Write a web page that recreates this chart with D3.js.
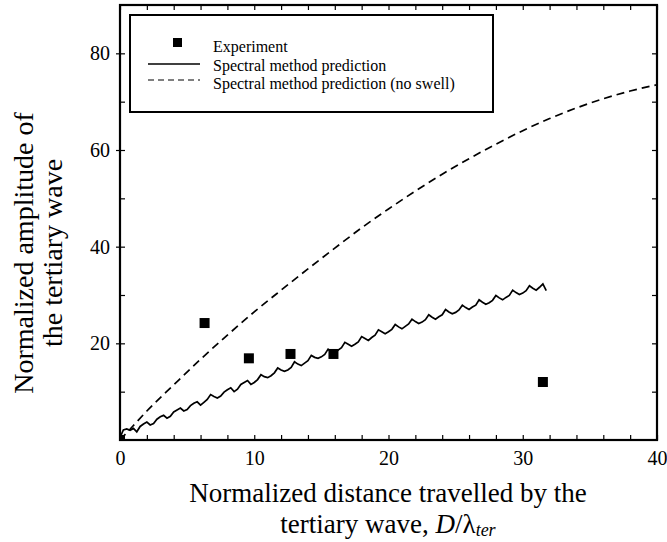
<!DOCTYPE html>
<html><head><meta charset="utf-8">
<script src="https://cdn.jsdelivr.net/npm/d3@7"></script>
<style>html,body{margin:0;padding:0;background:#fff}</style>
</head><body><svg id="chart" width="667" height="542"></svg>
<script>
// ---- data ----
const expX = [0, 6.3, 9.6, 12.7, 15.9, 31.5];
const expY = [0, 24.2, 16.9, 17.8, 17.8, 12.0];

const dashX = [0, 1, 2, 4, 6, 8, 10, 12, 14, 16, 18, 20, 22, 24, 26, 28, 30, 32, 34, 36, 38, 40];
const dashY = [0, 3.0, 6.0, 11.4, 16.7, 21.7, 26.5, 31.0, 35.4, 39.7, 43.9, 47.8, 51.5, 55.0, 58.2, 61.2, 64.0, 66.5, 68.7, 70.6, 72.2, 73.5];

const solidX = [0,0.25,0.5,0.75,1,1.25,1.5,1.75,2,2.25,2.5,2.75,3,3.25,3.5,3.75,4,4.25,4.5,4.75,
  5,5.25,5.5,5.75,6,6.25,6.5,6.75,7,7.25,7.5,7.75,8,8.25,8.5,8.75,9,9.25,9.5,9.75,
  10,10.25,10.5,10.75,11,11.25,11.5,11.75,12,12.25,12.5,12.75,13,13.25,13.5,13.75,14,14.25,14.5,14.75,
  15,15.25,15.5,15.75,16,16.25,16.5,16.75,17,17.25,17.5,17.75,18,18.25,18.5,18.75,19,19.25,19.5,19.75,
  20,20.25,20.5,20.75,21,21.25,21.5,21.75,22,22.25,22.5,22.75,23,23.25,23.5,23.75,24,24.25,24.5,24.75,
  25,25.25,25.5,25.75,26,26.25,26.5,26.75,27,27.25,27.5,27.75,28,28.25,28.5,28.75,29,29.25,29.5,29.75,
  30,30.25,30.5,30.75,31,31.25,31.5,31.75];
const solidY = [0.5,2.1,2.3,2.0,2.4,1.7,2.8,3.3,3.7,3.1,3.4,4.3,4.8,5.1,4.5,4.9,5.8,6.2,6.6,6.0,
  6.3,7.1,7.6,7.9,7.2,7.8,8.4,9.4,9.0,8.7,9.1,9.9,10.4,10.8,10.0,10.5,11.5,11.9,12.3,11.5,
  11.9,12.5,13.5,13.1,12.9,13.3,13.9,14.9,14.5,14.2,14.5,15.0,16.2,15.7,15.4,15.9,16.4,17.5,17.1,16.9,
  17.2,17.7,18.8,18.3,18.0,18.6,19.1,20.2,19.8,19.4,19.8,20.3,21.4,21.0,20.6,21.2,21.7,22.8,22.4,22.0,
  22.4,22.9,23.9,23.4,23.0,23.5,24.0,25.0,24.5,24.1,24.4,24.9,25.9,25.4,25.0,25.5,25.9,27.0,26.5,26.1,
  26.4,26.9,27.9,27.4,27.0,27.5,27.9,29.0,28.5,28.1,28.4,28.9,29.9,29.4,29.0,29.5,29.9,31.0,30.5,30.1,
  30.4,30.9,31.9,31.4,31.0,31.6,32.3,30.9];

const xTickLabels = [0, 10, 20, 30, 40];
const yTickLabels = [20, 40, 60, 80];
const xMinorTicks = [0,2,4,6,8,10,12,14,16,18,20,22,24,26,28,30,32,34,36,38,40];
const yMinorTicks = [10,20,30,40,50,60,70,80];
const legendLabels = ["Experiment", "Spectral method prediction", "Spectral method prediction (no swell)"];

// ---- drawing ----
const svg = d3.select("#chart");
const serif = "'Liberation Serif', 'Times New Roman', serif";
const L = 120, R = 657, T = 5, B = 440;
const x = d3.scaleLinear().domain([0, 40]).range([L, R]);
const y = d3.scaleLinear().domain([0, 90]).range([B, T]);

svg.append("rect").attr("width", 667).attr("height", 542).attr("fill", "#fff");

svg.append("defs").append("clipPath").attr("id", "clip")
  .append("rect").attr("x", L).attr("y", T).attr("width", R - L).attr("height", B - T);

// ticks (inward)
function minorAxis(axis, tr) {
  const g = svg.append("g").attr("transform", tr).call(axis);
  g.select(".domain").remove();
  g.selectAll("text").remove();
  g.selectAll("line").attr("stroke", "#000").attr("stroke-width", 1.2);
}
minorAxis(d3.axisBottom(x).tickValues(xMinorTicks).tickSize(-5), `translate(0,${B})`);
minorAxis(d3.axisTop(x).tickValues(xMinorTicks).tickSize(-5), `translate(0,${T})`);
minorAxis(d3.axisLeft(y).tickValues(yMinorTicks).tickSize(-5), `translate(${L},0)`);
minorAxis(d3.axisLeft(y).tickValues(yTickLabels).tickSize(4), `translate(${L},0)`);
minorAxis(d3.axisRight(y).tickValues(yMinorTicks).tickSize(-5), `translate(${R},0)`);

// tick labels
const xl = svg.append("g").attr("transform", `translate(0,${B})`)
  .call(d3.axisBottom(x).tickValues(xTickLabels).tickSize(0).tickPadding(11));
xl.select(".domain").remove();
xl.selectAll("text").attr("font-family", serif).attr("font-size", 20).attr("fill", "#000");

const yl = svg.append("g").attr("transform", `translate(${L},0)`)
  .call(d3.axisLeft(y).tickValues(yTickLabels).tickSize(0).tickPadding(10));
yl.select(".domain").remove();
yl.selectAll("text").attr("font-family", serif).attr("font-size", 20).attr("fill", "#000");

// curves
const plot = svg.append("g").attr("clip-path", "url(#clip)");
const dashData = dashX.map((d, i) => [d, dashY[i]]);
const solidData = solidX.map((d, i) => [d, solidY[i]]);
const expData = expX.map((d, i) => [d, expY[i]]);

plot.append("path").datum(dashData)
  .attr("d", d3.line().x(d => x(d[0])).y(d => y(d[1])).curve(d3.curveMonotoneX))
  .attr("fill", "none").attr("stroke", "#000").attr("stroke-width", 1.7)
  .attr("stroke-dasharray", "8,5");

plot.append("path").datum(solidData)
  .attr("d", d3.line().x(d => x(d[0])).y(d => y(d[1])))
  .attr("fill", "none").attr("stroke", "#000").attr("stroke-width", 1.7)
  .attr("stroke-linejoin", "miter");

const ms = 10;
plot.selectAll("rect.pt").data(expData).enter().append("rect").attr("class", "pt")
  .attr("x", d => x(d[0]) - ms / 2).attr("y", d => y(d[1]) - ms / 2)
  .attr("width", ms).attr("height", ms).attr("fill", "#000");

// frame
svg.append("rect").attr("x", L).attr("y", T).attr("width", R - L).attr("height", B - T)
  .attr("fill", "none").attr("stroke", "#000").attr("stroke-width", 2.2);

// legend
const lg = svg.append("g");
lg.append("rect").attr("x", 130).attr("y", 15).attr("width", 363).attr("height", 97)
  .attr("fill", "#fff").attr("stroke", "#000").attr("stroke-width", 2);
lg.append("rect").attr("x", 173).attr("y", 38).attr("width", 9).attr("height", 9).attr("fill", "#000");
lg.append("line").attr("x1", 148).attr("x2", 200).attr("y1", 64).attr("y2", 64)
  .attr("stroke", "#000").attr("stroke-width", 1.4);
lg.append("line").attr("x1", 148).attr("x2", 200).attr("y1", 80).attr("y2", 80)
  .attr("stroke", "#000").attr("stroke-width", 1.2).attr("stroke-dasharray", "6,4");
const lgY = [52, 70.5, 89];
lg.selectAll("text.lg").data(legendLabels).enter().append("text").attr("class", "lg")
  .attr("x", 213).attr("y", (d, i) => lgY[i])
  .attr("font-family", serif).attr("font-size", 16).attr("fill", "#000").text(d => d);

// axis titles (two separate text lines)
svg.append("text").attr("font-family", serif).attr("font-size", 27)
  .attr("text-anchor", "middle").attr("fill", "#000")
  .attr("x", 388).attr("y", 502).text("Normalized distance travelled by the");
const l2 = svg.append("text").attr("font-family", serif).attr("font-size", 27)
  .attr("text-anchor", "middle").attr("fill", "#000")
  .attr("x", 388).attr("y", 533);
l2.append("tspan").text("tertiary wave, ");
l2.append("tspan").attr("font-style", "italic").text("D");
l2.append("tspan").text("/λ");
l2.append("tspan").attr("font-style", "italic").attr("font-size", 18).attr("dy", 3).text("ter");

svg.append("text").attr("font-family", serif).attr("font-size", 28).attr("text-anchor", "middle")
  .attr("fill", "#000").attr("transform", "translate(33,253) rotate(-90)").text("Normalized amplitude of");
svg.append("text").attr("font-family", serif).attr("font-size", 28).attr("text-anchor", "middle")
  .attr("fill", "#000").attr("transform", "translate(62,253) rotate(-90)").text("the tertiary wave");
</script></body></html>
